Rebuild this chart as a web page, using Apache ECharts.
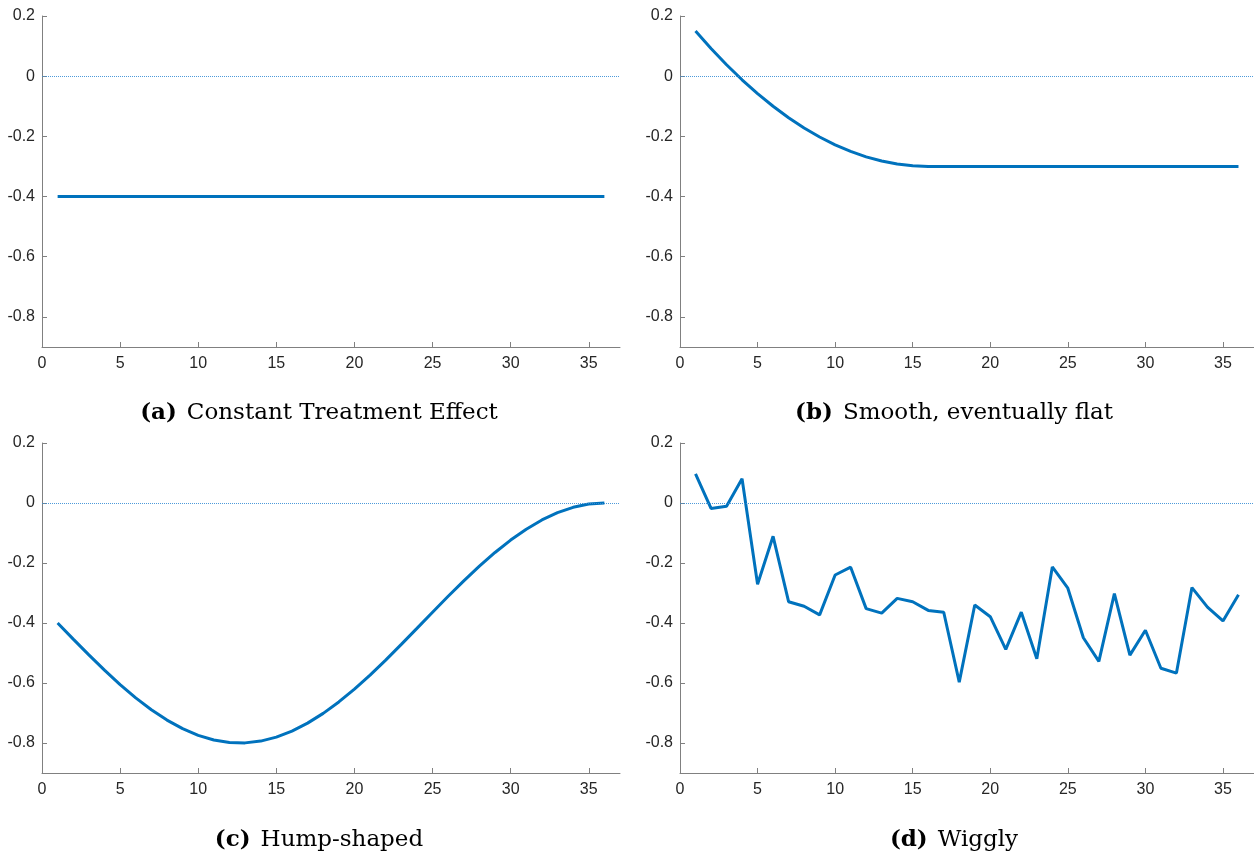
<!DOCTYPE html>
<html><head><meta charset="utf-8">
<script src="https://cdn.jsdelivr.net/npm/echarts@6/dist/echarts.min.js"></script>
<style>html,body{margin:0;padding:0;background:#fff}#c{width:1254px;height:852px}</style>
</head><body><div id="c"></div>
<script>
const periods = [1,2,3,4,5,6,7,8,9,10,11,12,13,14,15,16,17,18,19,20,21,22,23,24,25,26,27,28,29,30,31,32,33,34,35,36];
const constantEffect = [-0.4,-0.4,-0.4,-0.4,-0.4,-0.4,-0.4,-0.4,-0.4,-0.4,-0.4,-0.4,-0.4,-0.4,-0.4,-0.4,-0.4,-0.4,-0.4,-0.4,-0.4,-0.4,-0.4,-0.4,-0.4,-0.4,-0.4,-0.4,-0.4,-0.4,-0.4,-0.4,-0.4,-0.4,-0.4,-0.4];
const smoothFlat = [0.15,0.092,0.038,-0.012,-0.058,-0.100,-0.138,-0.172,-0.202,-0.228,-0.250,-0.268,-0.282,-0.292,-0.298,-0.3,-0.3,-0.3,-0.3,-0.3,-0.3,-0.3,-0.3,-0.3,-0.3,-0.3,-0.3,-0.3,-0.3,-0.3,-0.3,-0.3,-0.3,-0.3,-0.3,-0.3];
const humpShaped = [-0.4,-0.4537,-0.5064,-0.5573,-0.6052,-0.6495,-0.6891,-0.7236,-0.7522,-0.7745,-0.7900,-0.7984,-0.7996,-0.7936,-0.7804,-0.7604,-0.7338,-0.7012,-0.6632,-0.6204,-0.5736,-0.5236,-0.4714,-0.4179,-0.3641,-0.3110,-0.2594,-0.2104,-0.1649,-0.1235,-0.0873,-0.0566,-0.0322,-0.0144,-0.0036,0];
const wiggly = [0.097,-0.018,-0.011,0.081,-0.271,-0.111,-0.329,-0.344,-0.373,-0.240,-0.214,-0.352,-0.367,-0.318,-0.329,-0.358,-0.364,-0.597,-0.340,-0.379,-0.488,-0.364,-0.519,-0.213,-0.284,-0.449,-0.528,-0.302,-0.507,-0.424,-0.551,-0.567,-0.282,-0.347,-0.393,-0.306];
const captionLabels = ['(a)','(b)','(c)','(d)'];
const captionTexts = ['Constant Treatment Effect','Smooth, eventually flat','Hump-shaped','Wiggly'];
const xTicks = {min:0, max:37, interval:5};
const yTicks = {min:-0.9, max:0.2, labels:[-0.8,-0.6,-0.4,-0.2,0,0.2]};

const panels = [constantEffect, smoothFlat, humpShaped, wiggly];
const grids = [
  {left:42, top:16, width:578, height:331},
  {left:680, top:16, width:577, height:331},
  {left:42, top:443, width:578, height:330},
  {left:680, top:443, width:577, height:330}
];
const captionPos = [{x:314,y:397},{x:949,y:397},{x:314,y:824},{x:949,y:824}];
const lineColor = '#0072BD';
const axisColor = '#808080';
const labelFont = {color:'#262626', fontSize:16, fontFamily:'"Liberation Sans", Arial, sans-serif'};

const xAxis = grids.map((g,i)=>({
  type:'value', gridIndex:i, min:xTicks.min, max:xTicks.max, interval:xTicks.interval,
  axisLine:{show:true, onZero:false, lineStyle:{color:axisColor, width:1}},
  axisTick:{show:true, inside:true, length:5, lineStyle:{color:axisColor}},
  axisLabel:Object.assign({margin:9, showMaxLabel:false}, labelFont),
  splitLine:{show:false}
}));
const yAxis = grids.map((g,i)=>({
  type:'value', gridIndex:i, min:yTicks.min, max:yTicks.max, interval:0.1,
  axisLine:{show:true, onZero:false, lineStyle:{color:axisColor, width:1}},
  axisTick:{show:true, inside:true, length:5, lineStyle:{color:axisColor},
    customValues: yTicks.labels},
  axisLabel:Object.assign({margin:7, customValues: yTicks.labels,
    formatter:v=>{ const r=Math.round(v*10)/10; return r===0?'0':String(r);} }, labelFont),
  splitLine:{show:false}
}));
const series = panels.map((vals,i)=>({
  type:'line', xAxisIndex:i, yAxisIndex:i,
  data: periods.map((p,k)=>[p, vals[k]]),
  showSymbol:false, symbol:'none',
  lineStyle:{color:lineColor, width:3},
  z:3,
  markLine:{silent:true, symbol:'none', label:{show:false},
    lineStyle:{color:'#3a8fd6', type:'dotted', width:1, opacity:0.9},
    data:[{yAxis:0}]}
}));
const serif = '"DejaVu Serif", "Liberation Serif", serif';
const title = captionPos.map((c,i)=>({
  text:'{b|'+captionLabels[i]+'}  {n|'+captionTexts[i]+'}',
  left:c.x, top:c.y, textAlign:'center',
  textStyle:{fontWeight:'normal', rich:{
    b:{fontFamily:serif, fontWeight:'bold', fontSize:23, color:'#000'},
    n:{fontFamily:serif, fontWeight:'normal', fontSize:23, color:'#000'}
  }}
}));
const chart = echarts.init(document.getElementById('c'), null, {renderer:'canvas'});
chart.setOption({animation:false, backgroundColor:'#fff', title, grid:grids, xAxis, yAxis, series});
</script></body></html>
